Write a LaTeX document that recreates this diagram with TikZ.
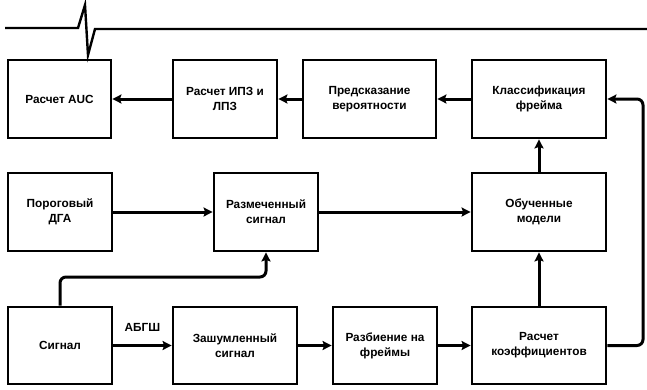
\documentclass[tikz,border=0pt]{standalone}
\usepackage{fontspec}
\setmainfont{Liberation Sans}
\usetikzlibrary{arrows.meta}
\begin{document}
\begin{tikzpicture}[x=1pt,y=-1pt,
  box/.style={draw,line width=2.8pt,minimum height=78pt,inner sep=2pt,align=center,
    font=\fontsize{11.8}{15}\selectfont\bfseries},
  conn/.style={line width=3pt,-{Stealth[length=9pt,width=9pt,inset=1.5pt]}},
  lbl/.style={font=\fontsize{11.8}{15}\selectfont\bfseries}]
\useasboundingbox (0,0) rectangle (647,389);
% top wave line
\coordinate (w0) at (5,28);
\coordinate (w1) at (78,28);
\coordinate (w2) at (85,5);
\coordinate (w3) at (88,55);
\coordinate (w4) at (95,29);
\coordinate (w5) at (647,29);
\draw[line width=2.4pt,line join=miter] (w0) -- (w1) -- (w2) -- (w3) -- (w4) -- (w5);
% row 1
\node[box,minimum width=103pt] (auc) at (59.5,99) {Расчет AUC};
\node[box,minimum width=104pt] (ipz) at (225,99) {Расчет ИПЗ и\\ЛПЗ};
\node[box,minimum width=133pt] (pred) at (369.5,99) {Предсказание\\вероятности};
\node[box,minimum width=134pt] (cls) at (539,99) {Классификация\\фрейма};
% row 2
\node[box,minimum width=104pt] (dga) at (60,212) {Пороговый\\ДГА};
\node[box,minimum width=104pt] (mark) at (266,212) {Размеченный\\сигнал};
\node[box,minimum width=134pt] (model) at (539,212) {Обученные\\модели};
% row 3
\node[box,minimum width=104pt,minimum height=77pt] (sig) at (60,345.5) {Сигнал};
\node[box,minimum width=124pt,minimum height=77pt] (noisy) at (235,345.5) {Зашумленный\\сигнал};
\node[box,minimum width=104pt,minimum height=77pt] (split) at (385,345.5) {Разбиение на\\фреймы};
\node[box,minimum width=134pt,minimum height=77pt] (coef) at (539,345.5) {Расчет\\коэффициентов};
% connectors
\draw[conn] (ipz) -- (auc);
\draw[conn] (pred) -- (ipz);
\draw[conn] (cls) -- (pred);
\draw[conn] (dga) -- (mark);
\draw[conn] (mark) -- (model);
\draw[conn] (model) -- (cls);
\draw[conn] (coef) -- (model);
\draw[conn] (sig) -- node[lbl,above=9pt] {АБГШ} (noisy);
\draw[conn] (noisy) -- (split);
\draw[conn] (split) -- (coef);
\coordinate (r1) at (643,345.5);
\coordinate (r2) at (643,99);
\draw[conn,rounded corners=6pt] (coef.east) -- (r1) -- (r2) -- (cls.east);
\coordinate (s1) at (60,277);
\coordinate (s2) at (266,277);
\draw[conn,rounded corners=6pt] (sig.north) -- (s1) -- (s2) -- (mark.south);
\end{tikzpicture}
\end{document}
